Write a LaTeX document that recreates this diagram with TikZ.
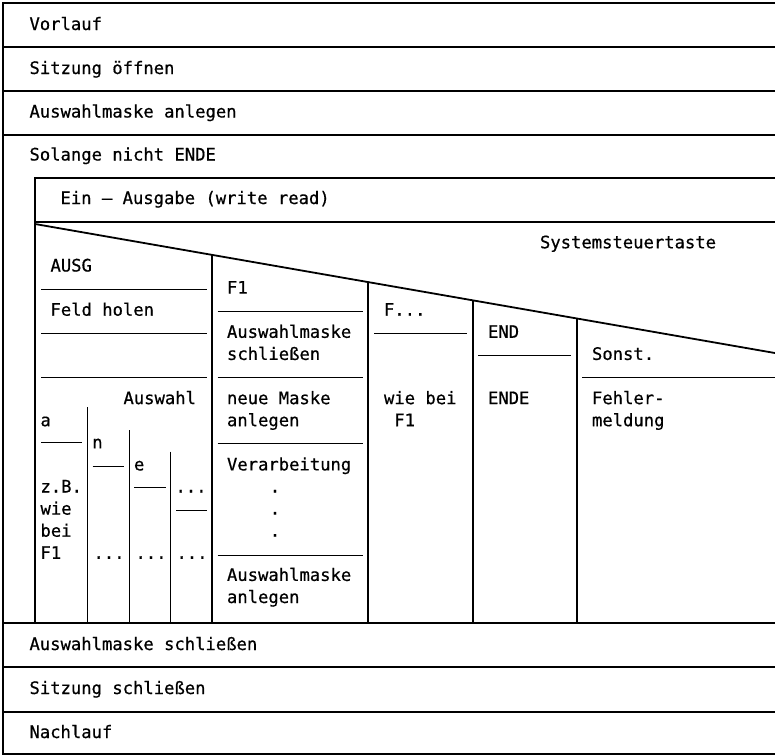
\documentclass[tikz,border=0pt]{standalone}
\usepackage{fontspec}
\newfontfamily\mono[FakeBold=0.6]{DejaVu Sans Mono}
\begin{document}
\begin{tikzpicture}[x=1pt,y=-1pt,
  frame/.style={line width=1.2pt},
  sep/.style={line width=1.0pt},
  diag/.style={line width=1.8pt},
  lbl/.style={anchor=base west,inner sep=0pt,outer sep=0pt,font=\mono\fontsize{17.2}{22}\selectfont},
  dotc/.style={anchor=base,inner sep=0pt,outer sep=0pt,font=\mono\fontsize{17.2}{22}\selectfont}]
\useasboundingbox (0,0) rectangle (775,755);

% outer sequence frame
\draw[frame] (776,3) -- (3,3) -- (3,754) -- (776,754);
\foreach \y in {47,91,135,623,667,712} \draw[frame] (3,\y) -- (776,\y);

% loop body: case block
\draw[frame] (776,178) -- (35,178) -- (35,623);
\draw[frame] (35,222) -- (776,222);
\coordinate (dA) at (35,224);
\coordinate (dB) at (776,353.2);
\draw[diag] (dA) -- (dB);

% case columns
\draw[frame] (212,254.9) -- (212,623);
\draw[frame] (368,282.0) -- (368,623);
\draw[frame] (473,300.4) -- (473,623);
\draw[frame] (577,318.5) -- (577,623);

% separators inside the columns
\foreach \y in {289.3,333.5,377} \draw[sep] (41,\y) -- (207,\y);
\foreach \y in {311,377,443,555} \draw[sep] (217.5,\y) -- (363,\y);
\draw[sep] (374,333) -- (467,333);
\draw[sep] (478,355) -- (571,355);
\draw[sep] (582,377) -- (776,377);

% selection "Auswahl" sub-columns
\draw[sep] (87.3,407) -- (87.3,623);
\draw[sep] (129,430) -- (129,623);
\draw[sep] (170.7,451.7) -- (170.7,623);
\draw[sep] (41,442.7) -- (82,442.7);
\draw[sep] (92.7,466) -- (124,466);
\draw[sep] (134,487.7) -- (165.7,487.7);
\draw[sep] (176,510) -- (206.7,510);

% sequence texts
\node[lbl] (vorlauf) at (29.5,30) {Vorlauf};
\node[lbl] (oeffnen) at (29.5,74) {Sitzung öffnen};
\node[lbl] (anlegen) at (29.5,117.5) {Auswahlmaske anlegen};
\node[lbl] (solange) at (29.5,160.5) {Solange nicht ENDE};
\node[lbl] (einaus) at (60.5,204) {Ein – Ausgabe (write read)};
\node[lbl] (taste) at (540,248.3) {Systemsteuertaste};

% column AUSG
\node[lbl] (ausg) at (50.5,271.5) {AUSG};
\node[lbl] (feld) at (50.5,315.7) {Feld holen};
\node[lbl] (auswahl) at (123.5,404.1) {Auswahl};
\node[lbl] (ca) at (40.5,426.2) {a};
\node[lbl] (cn) at (92.3,448.3) {n};
\node[lbl] (ce) at (134,470.4) {e};
\node[lbl] (zb) at (40.5,492.5) {z.B.};
\node[lbl] (zwie) at (40.5,514.6) {wie};
\node[lbl] (zbei) at (40.5,536.7) {bei};
\node[lbl] (zf) at (40.5,558.8) {F1};
\node[lbl] (cd1) at (175.5,492.5) {...};
\node[lbl] (nd) at (93.5,558.8) {...};
\node[lbl] (ed) at (135.5,558.8) {...};
\node[lbl] (dd) at (176.5,558.8) {...};

% column F1
\node[lbl] (f1) at (227,293.6) {F1};
\node[lbl] (f1a) at (227,337.8) {Auswahlmaske};
\node[lbl] (f1b) at (227,359.9) {schließen};
\node[lbl] (f1c) at (227,404.1) {neue Maske};
\node[lbl] (f1d) at (227,426.2) {anlegen};
\node[lbl] (f1e) at (227,470.4) {Verarbeitung};
\node[dotc] (v1) at (275,492.5) {.};
\node[dotc] (v2) at (275,514.6) {.};
\node[dotc] (v3) at (275,536.7) {.};
\node[lbl] (f1f) at (227,580.9) {Auswahlmaske};
\node[lbl] (f1g) at (227,603) {anlegen};

% column F...
\node[lbl] (fx) at (384,315.7) {F...};
\node[lbl] (fxa) at (384,404.1) {wie bei};
\node[lbl] (fxb) at (394.3,426.2) {F1};

% column END
\node[lbl] (endk) at (488,337.8) {END};
\node[lbl] (ende) at (488,404.1) {ENDE};

% column Sonst.
\node[lbl] (sonst) at (592,359.9) {Sonst.};
\node[lbl] (fehl) at (592,404.1) {Fehler-};
\node[lbl] (meld) at (592,426.2) {meldung};

% closing sequence
\node[lbl] (schl) at (29.5,650) {Auswahlmaske schließen};
\node[lbl] (szs) at (29.5,694) {Sitzung schließen};
\node[lbl] (nach) at (29.5,738) {Nachlauf};
\end{tikzpicture}
\end{document}
